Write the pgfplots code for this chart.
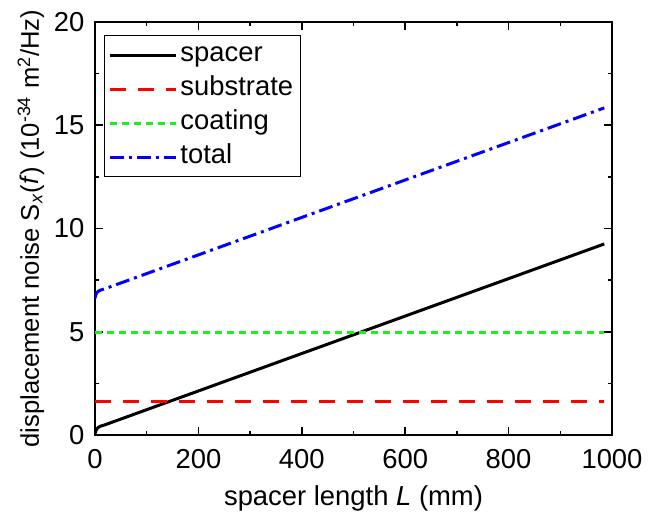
\documentclass[border=0pt]{standalone}
\usepackage{pgfplots}
\pgfplotsset{compat=1.18}
\usepackage{fontspec}
\setmainfont{Liberation Sans}
\definecolor{myred}{rgb}{1,0,0}
\definecolor{mygreen}{rgb}{0.1,0.95,0.1}
\definecolor{myblue}{rgb}{0,0,1}
\newcommand{\fs}{\fontsize{13.7}{16}\selectfont}
\begin{document}
\fs
\begin{tikzpicture}
\begin{axis}[
  scale only axis,
  width=258.5pt, height=206.5pt,
  xmin=0, xmax=1000, ymin=0, ymax=20,
  xtick={0,200,...,1000}, ytick={0,5,...,20},
  minor x tick num=1, minor y tick num=1,
  tick align=inside,
  axis line style={line width=0.9pt},
  every tick/.style={line width=0.8pt, black},
  major tick length=4pt, minor tick length=2.2pt,
  /pgf/number format/assume math mode=true,
  /pgf/number format/1000 sep={},
  ticklabel style={font=\fs},
  xticklabel style={yshift=-2.5pt},
  yticklabel style={xshift=-0.5pt},
  xlabel style={font=\fs},
  ylabel style={font=\fontsize{12.8}{15}\selectfont},
  xlabel={spacer length \textit{L} (mm)},
  ylabel={displacement noise S\textsubscript{\textit{x}}(\textit{f}) (10\textsuperscript{-34} m\textsuperscript{2}/Hz)},
  xlabel style={at={(axis description cs:0.5,-0.1525)}, anchor=center},
  ylabel style={at={(axis description cs:-0.124,0.5)}, anchor=center},
  legend style={font=\fs, draw=black, line width=0.5pt, inner sep=2pt, row sep=1.2pt,
    legend cell align=left, at={(axis description cs:0.0174,0.969)}, anchor=north west,
    nodes={inner sep=1.5pt, text height=9.8pt, text depth=3pt}},
  legend image code/.code={\draw[#1] (0pt,0pt) -- (33pt,0pt);},
]
\addplot[black, line width=1.5pt] coordinates {(0,0.03) (1,0.15) (3,0.28) (6,0.36) (10,0.42) (20,0.5) (985,9.25)};
\addlegendentry{spacer}
\addplot[myred, line width=1.5pt, dash pattern=on 8pt off 6pt] coordinates {(0,1.62) (985,1.62)};
\addlegendentry{substrate}
\addplot[mygreen, line width=1.5pt, dash pattern=on 3.5pt off 2.5pt] coordinates {(0,4.97) (985,4.97)};
\addlegendentry{coating}
\addplot[myblue, line width=1.5pt, dash pattern=on 7pt off 2.5pt on 1.5pt off 2.5pt] coordinates {(0,6.62) (1,6.74) (3,6.87) (6,6.95) (10,7.01) (20,7.09) (985,15.84)};
\addlegendentry{total}
\end{axis}
\pgfresetboundingbox
\path (current axis.south west) ++(-47.5pt,-41pt) coordinate (bl);
\path (current axis.north east) ++(21pt,11pt) coordinate (tr);
\path[use as bounding box] (bl) rectangle (tr);
\end{tikzpicture}
\end{document}
